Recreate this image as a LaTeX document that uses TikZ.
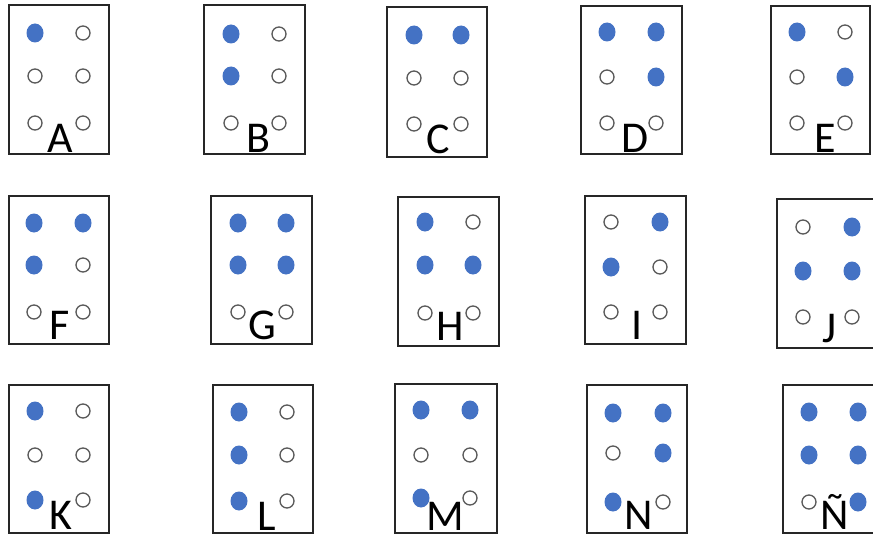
\documentclass[tikz,border=0pt]{standalone}
\usepackage{fontspec}
\setmainfont{Carlito}
\usetikzlibrary{shapes.geometric}
\definecolor{dotblue}{HTML}{4472C4}
\tikzset{
  cellbox/.style={draw=black!85, line width=1.7pt},
  fdot/.style={ellipse, fill=dotblue, minimum width=17pt, minimum height=19pt, inner sep=0pt},
  edot/.style={circle, draw=black!65, line width=1.3pt, fill=white, minimum size=14pt, inner sep=0pt},
  dot/.code={\ifnum#1=1 \tikzset{fdot}\else\tikzset{edot}\fi},
  letter/.style={font=\fontsize{44}{44}\selectfont, anchor=base, inner sep=0pt, text=black}
}
% #1 name, #2 l/t/r/b, #3 c1/c2, #4 r1/r2/r3, #5 pattern p1..p6, #6 letter, #7 lx/base
\newcommand\brl[7]{%
  \foreach \bl/\bt/\br/\bb in {#2}{\draw[cellbox] (\bl,\bt) rectangle (\br,\bb);}
  \foreach \ca/\cb in {#3}{
    \foreach \ra/\rb/\rc in {#4}{
      \foreach \pa/\pb/\pc/\pd/\pe/\pf in {#5}{
        \node[dot=\pa] (#1-1) at (\ca,\ra) {};
        \node[dot=\pb] (#1-2) at (\ca,\rb) {};
        \node[dot=\pc] (#1-3) at (\ca,\rc) {};
        \node[dot=\pd] (#1-4) at (\cb,\ra) {};
        \node[dot=\pe] (#1-5) at (\cb,\rb) {};
        \node[dot=\pf] (#1-6) at (\cb,\rc) {};
      }}}
  \foreach \lx/\ly in {#7}{\node[letter] (#1-L) at (\lx,\ly) {#6};}
}
\begin{document}
\begin{tikzpicture}[x=1pt,y=-1pt]
\useasboundingbox (0,0) rectangle (873,535);
\clip (0,0) rectangle (873,535);
\fill[white] (0,0) rectangle (873,535);
% row 1
\brl{A}{9/5/109/154}{35/83}{33/76/123}{1/0/0/0/0/0}{A}{60/152}
\brl{B}{204/5/305/154}{231/279}{34/76/123}{1/1/0/0/0/0}{B}{258/152}
\brl{C}{387/7/487/157}{414/461}{35/78/124}{1/0/0/1/0/0}{C}{438/153}
\brl{D}{581/6/682/154}{607/656}{32/77/123}{1/0/0/1/1/0}{D}{635/152}
\brl{E}{771/6/870/154}{797/845}{32/77/123}{1/0/0/0/1/0}{E}{825/152}
% row 2
\brl{F}{9/196/109/344}{34/83}{223/265/312}{1/1/0/1/0/0}{F}{60/339}
\brl{G}{211/196/312/344}{238/286}{223/265/312}{1/1/0/1/1/0}{G}{262/339}
\brl{H}{398/197/499/346}{425/473}{222/265/313}{1/1/0/0/1/0}{H}{450/340}
\brl{I}{585/196/686/344}{611/660}{222/267/312}{0/1/0/1/0/0}{I}{637/339}
\brl{J}{777/199/880/348}{803/852}{227/271/317}{0/1/0/1/1/0}{J}{830/342}
% row 3
\brl{K}{9/385/109/533}{35/83}{411/455/500}{1/0/1/0/0/0}{K}{61/529}
\brl{L}{213/385/313/533}{239/287}{412/455/501}{1/1/1/0/0/0}{L}{267/530}
\brl{M}{395/384/497/533}{421/470}{410/455/498}{1/0/1/1/0/0}{M}{445/530}
\brl{N}{587/385/687/533}{613/663}{413/453/502}{1/0/1/1/1/0}{N}{639/529}
\brl{NT}{783/385/884/533}{809/858}{412/455/502}{1/1/0/1/1/1}{Ñ}{835/529}
\end{tikzpicture}
\end{document}
